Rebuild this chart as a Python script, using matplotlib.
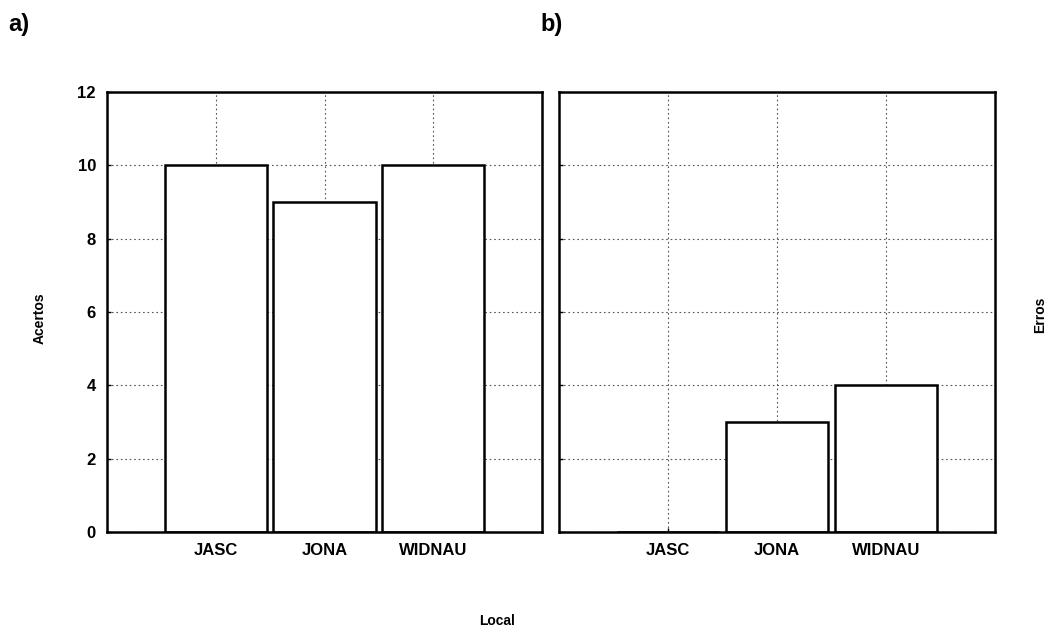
import matplotlib.pyplot as plt

locais = ["JASC", "JONA", "WIDNAU"]
acertos = [10, 9, 10]
erros = [0, 3, 4]
yticks = [0, 2, 4, 6, 8, 10, 12]

plt.rcParams['font.family'] = ['Liberation Sans', 'DejaVu Sans']
plt.rcParams['font.weight'] = 'bold'

fig = plt.figure(figsize=(10.47, 6.32), dpi=100)
axA = fig.add_axes([107/1047, 1-532/632, 435/1047, 440/632])
axB = fig.add_axes([559/1047, 1-532/632, 436/1047, 440/632])

pos = [1, 2, 3]

def drawPanel(ax, values, showYLabels):
    ax.bar(pos, values, width=0.94, color='white', edgecolor='black', linewidth=1.8, zorder=2)
    ax.set_xlim(0, 4)
    ax.set_ylim(0, 12)
    ax.set_xticks(pos)
    ax.set_xticklabels(locais, fontsize=12, fontweight='bold')
    ax.set_yticks(yticks)
    if showYLabels:
        ax.set_yticklabels([str(t) for t in yticks], fontsize=12, fontweight='bold')
    else:
        ax.set_yticklabels([])
    ax.tick_params(axis='both', direction='in', length=3, width=1, pad=8)
    ax.grid(True, linestyle=(0, (1.5, 2.5)), color='#555555', linewidth=0.8, zorder=0)
    ax.set_axisbelow(True)
    for s in ax.spines.values():
        s.set_linewidth(1.8)

drawPanel(axA, acertos, True)
drawPanel(axB, erros, False)

fig.text(40/1047, 1-318/632, "Acertos", rotation=90, ha='center', va='center', fontsize=10, fontweight='bold')
fig.text(1040/1047, 1-315/632, "Erros", rotation=90, ha='center', va='center', fontsize=10, fontweight='bold')
fig.text(497/1047, 1-621/632, "Local", ha='center', va='center', fontsize=10, fontweight='bold')
fig.text(8/1047, 1-24/632, "a)", ha='left', va='center', fontsize=17)
fig.text(540/1047, 1-24/632, "b)", ha='left', va='center', fontsize=17)

fig.savefig("out.png", dpi=100)
